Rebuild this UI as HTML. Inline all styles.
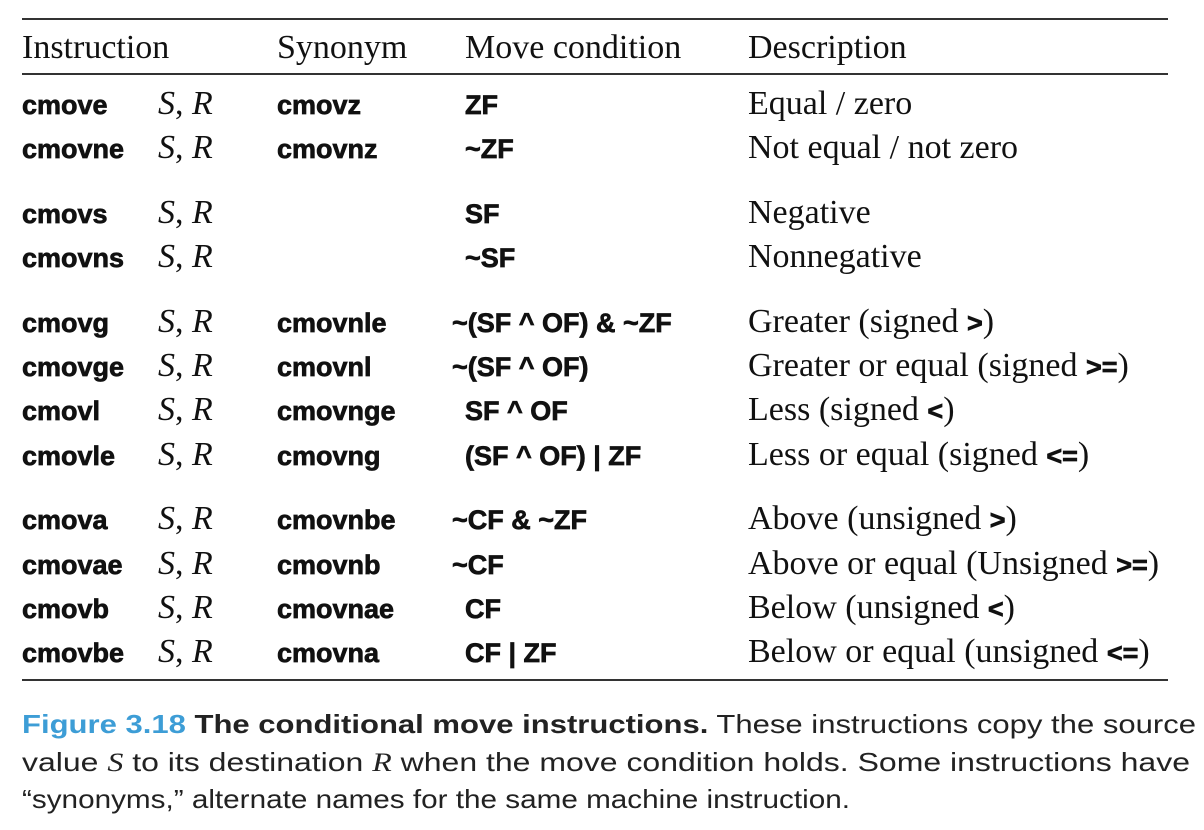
<!DOCTYPE html>
<html><head><meta charset="utf-8"><style>
html,body{margin:0;padding:0;background:#fff;}
svg{display:block}
.m{font-family:"Liberation Sans",sans-serif;font-weight:bold;font-size:27px;fill:#111;stroke:#111;stroke-width:0.7}
.s{font-family:"Liberation Serif",serif;font-size:34px;fill:#111}
.i{font-family:"Liberation Serif",serif;font-style:italic;font-size:34px;fill:#111}
.c{font-family:"Liberation Sans",sans-serif;font-size:26px;fill:#222}
</style></head><body>
<svg width="1204" height="830" xmlns="http://www.w3.org/2000/svg">
<line x1="22" y1="19" x2="1168" y2="19" stroke="#333" stroke-width="2"/>
<line x1="22" y1="74" x2="1168" y2="74" stroke="#333" stroke-width="2"/>
<line x1="22" y1="680" x2="1168" y2="680" stroke="#333" stroke-width="2"/>
<g class="s">
<text x="22" y="58">Instruction</text>
<text x="277" y="58">Synonym</text>
<text x="465" y="58">Move condition</text>
<text x="748" y="58">Description</text>
</g>
<g>
<text class="m" x="22" y="114">cmove</text><text class="i" x="158" y="114">S<tspan font-style="normal">, </tspan>R</text><text class="m" x="277" y="114">cmovz</text><text class="m" x="465" y="114">ZF</text><text class="s" x="748" y="114">Equal / zero</text>
<text class="m" x="22" y="158">cmovne</text><text class="i" x="158" y="158">S<tspan font-style="normal">, </tspan>R</text><text class="m" x="277" y="158">cmovnz</text><text class="m" x="465" y="158">~ZF</text><text class="s" x="748" y="158">Not equal / not zero</text>

<text class="m" x="22" y="223">cmovs</text><text class="i" x="158" y="223">S<tspan font-style="normal">, </tspan>R</text><text class="m" x="465" y="223">SF</text><text class="s" x="748" y="223">Negative</text>
<text class="m" x="22" y="267">cmovns</text><text class="i" x="158" y="267">S<tspan font-style="normal">, </tspan>R</text><text class="m" x="465" y="267">~SF</text><text class="s" x="748" y="267">Nonnegative</text>

<text class="m" x="22" y="332">cmovg</text><text class="i" x="158" y="332">S<tspan font-style="normal">, </tspan>R</text><text class="m" x="277" y="332">cmovnle</text><text class="m" x="452" y="332">~(SF ^ OF) &amp; ~ZF</text><text class="s" x="748" y="332">Greater (signed <tspan class="m">&gt;</tspan>)</text>
<text class="m" x="22" y="376">cmovge</text><text class="i" x="158" y="376">S<tspan font-style="normal">, </tspan>R</text><text class="m" x="277" y="376">cmovnl</text><text class="m" x="452" y="376">~(SF ^ OF)</text><text class="s" x="748" y="376">Greater or equal (signed <tspan class="m">&gt;=</tspan>)</text>
<text class="m" x="22" y="420">cmovl</text><text class="i" x="158" y="420">S<tspan font-style="normal">, </tspan>R</text><text class="m" x="277" y="420">cmovnge</text><text class="m" x="465" y="420">SF ^ OF</text><text class="s" x="748" y="420">Less (signed <tspan class="m">&lt;</tspan>)</text>
<text class="m" x="22" y="465">cmovle</text><text class="i" x="158" y="465">S<tspan font-style="normal">, </tspan>R</text><text class="m" x="277" y="465">cmovng</text><text class="m" x="465" y="465">(SF ^ OF) | ZF</text><text class="s" x="748" y="465">Less or equal (signed <tspan class="m">&lt;=</tspan>)</text>

<text class="m" x="22" y="529">cmova</text><text class="i" x="158" y="529">S<tspan font-style="normal">, </tspan>R</text><text class="m" x="277" y="529">cmovnbe</text><text class="m" x="452" y="529">~CF &amp; ~ZF</text><text class="s" x="748" y="529">Above (unsigned <tspan class="m">&gt;</tspan>)</text>
<text class="m" x="22" y="574">cmovae</text><text class="i" x="158" y="574">S<tspan font-style="normal">, </tspan>R</text><text class="m" x="277" y="574">cmovnb</text><text class="m" x="452" y="574">~CF</text><text class="s" x="748" y="574">Above or equal (Unsigned <tspan class="m">&gt;=</tspan>)</text>
<text class="m" x="22" y="618">cmovb</text><text class="i" x="158" y="618">S<tspan font-style="normal">, </tspan>R</text><text class="m" x="277" y="618">cmovnae</text><text class="m" x="465" y="618">CF</text><text class="s" x="748" y="618">Below (unsigned <tspan class="m">&lt;</tspan>)</text>
<text class="m" x="22" y="662">cmovbe</text><text class="i" x="158" y="662">S<tspan font-style="normal">, </tspan>R</text><text class="m" x="277" y="662">cmovna</text><text class="m" x="465" y="662">CF | ZF</text><text class="s" x="748" y="662">Below or equal (unsigned <tspan class="m">&lt;=</tspan>)</text>
</g>
<text class="c" x="22" y="733" textLength="1174" lengthAdjust="spacingAndGlyphs"><tspan fill="#3d9dd6" font-weight="bold">Figure 3.18</tspan>  <tspan font-weight="bold" fill="#222">The conditional move instructions.</tspan> These instructions copy the source</text>
<text class="c" x="22" y="771" textLength="1168" lengthAdjust="spacingAndGlyphs">value <tspan font-family="Liberation Serif" font-style="italic">S</tspan> to its destination <tspan font-family="Liberation Serif" font-style="italic">R</tspan> when the move condition holds. Some instructions have</text>
<text class="c" x="22" y="808" textLength="828" lengthAdjust="spacingAndGlyphs">“synonyms,” alternate names for the same machine instruction.</text>
</svg>
</body></html>
